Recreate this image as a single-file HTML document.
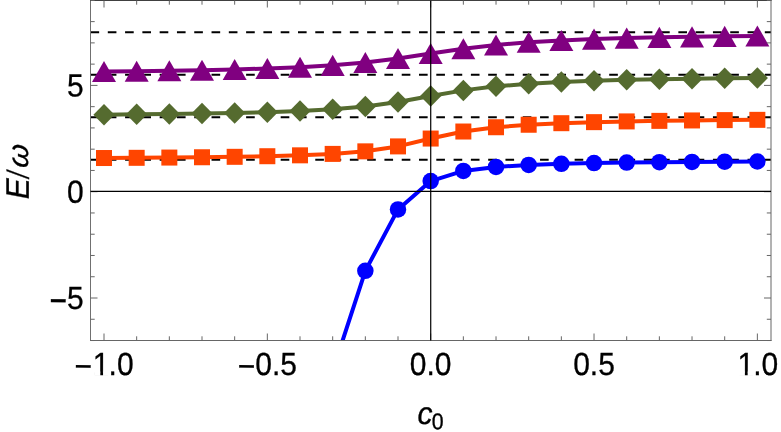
<!DOCTYPE html>
<html><head><meta charset="utf-8"><title>plot</title>
<style>html,body{margin:0;padding:0;background:#fff;}svg{display:block;will-change:transform}text{font-family:"Liberation Sans",sans-serif;fill:#000;stroke:#000;stroke-width:0.3px}</style></head><body>
<svg width="781" height="432" viewBox="0 0 781 432">
<rect width="781" height="432" fill="#fff"/>
<defs><clipPath id="cp"><rect x="90.5" y="0.5" width="680.5" height="340.0"/></clipPath></defs>
<g clip-path="url(#cp)">
<line x1="90.5" x2="771.0" y1="159.81" y2="159.81" stroke="#000" stroke-width="2.1" stroke-dasharray="8.645 8.645"/>
<line x1="90.5" x2="771.0" y1="117.29" y2="117.29" stroke="#000" stroke-width="2.1" stroke-dasharray="8.645 8.645"/>
<line x1="90.5" x2="771.0" y1="74.77" y2="74.77" stroke="#000" stroke-width="2.1" stroke-dasharray="8.645 8.645"/>
<line x1="90.5" x2="771.0" y1="32.25" y2="32.25" stroke="#000" stroke-width="2.1" stroke-dasharray="8.645 8.645"/>
<polyline fill="none" stroke="#0000ff" stroke-width="4" stroke-linejoin="round" points="267.34,690.37 300.01,510.75 332.68,370.95 365.34,270.82 398.01,209.41 430.68,181.07 463.35,170.90 496.02,166.90 528.68,164.94 561.35,163.81 594.02,163.08 626.69,162.57 659.36,162.20 692.02,161.91 724.69,161.69 757.36,161.51"/>
<circle cx="267.34" cy="690.37" r="8.25" fill="#0000ff"/>
<circle cx="300.01" cy="510.75" r="8.25" fill="#0000ff"/>
<circle cx="332.68" cy="370.95" r="8.25" fill="#0000ff"/>
<circle cx="365.34" cy="270.82" r="8.25" fill="#0000ff"/>
<circle cx="398.01" cy="209.41" r="8.25" fill="#0000ff"/>
<circle cx="430.68" cy="181.07" r="8.25" fill="#0000ff"/>
<circle cx="463.35" cy="170.90" r="8.25" fill="#0000ff"/>
<circle cx="496.02" cy="166.90" r="8.25" fill="#0000ff"/>
<circle cx="528.68" cy="164.94" r="8.25" fill="#0000ff"/>
<circle cx="561.35" cy="163.81" r="8.25" fill="#0000ff"/>
<circle cx="594.02" cy="163.08" r="8.25" fill="#0000ff"/>
<circle cx="626.69" cy="162.57" r="8.25" fill="#0000ff"/>
<circle cx="659.36" cy="162.20" r="8.25" fill="#0000ff"/>
<circle cx="692.02" cy="161.91" r="8.25" fill="#0000ff"/>
<circle cx="724.69" cy="161.69" r="8.25" fill="#0000ff"/>
<circle cx="757.36" cy="161.51" r="8.25" fill="#0000ff"/>
<polyline fill="none" stroke="#ff4500" stroke-width="4" stroke-linejoin="round" points="104.00,158.02 136.67,157.82 169.34,157.57 202.00,157.25 234.67,156.82 267.34,156.22 300.01,155.33 332.68,153.90 365.34,151.35 398.01,146.40 430.68,138.55 463.35,131.52 496.02,127.24 528.68,124.75 561.35,123.19 594.02,122.15 626.69,121.41 659.36,120.87 692.02,120.45 724.69,120.11 757.36,119.84"/>
<rect x="96.00" y="150.02" width="16" height="16" fill="#ff4500"/>
<rect x="128.67" y="149.82" width="16" height="16" fill="#ff4500"/>
<rect x="161.34" y="149.57" width="16" height="16" fill="#ff4500"/>
<rect x="194.00" y="149.25" width="16" height="16" fill="#ff4500"/>
<rect x="226.67" y="148.82" width="16" height="16" fill="#ff4500"/>
<rect x="259.34" y="148.22" width="16" height="16" fill="#ff4500"/>
<rect x="292.01" y="147.33" width="16" height="16" fill="#ff4500"/>
<rect x="324.68" y="145.90" width="16" height="16" fill="#ff4500"/>
<rect x="357.34" y="143.35" width="16" height="16" fill="#ff4500"/>
<rect x="390.01" y="138.40" width="16" height="16" fill="#ff4500"/>
<rect x="422.68" y="130.55" width="16" height="16" fill="#ff4500"/>
<rect x="455.35" y="123.52" width="16" height="16" fill="#ff4500"/>
<rect x="488.02" y="119.24" width="16" height="16" fill="#ff4500"/>
<rect x="520.68" y="116.75" width="16" height="16" fill="#ff4500"/>
<rect x="553.35" y="115.19" width="16" height="16" fill="#ff4500"/>
<rect x="586.02" y="114.15" width="16" height="16" fill="#ff4500"/>
<rect x="618.69" y="113.41" width="16" height="16" fill="#ff4500"/>
<rect x="651.36" y="112.87" width="16" height="16" fill="#ff4500"/>
<rect x="684.02" y="112.45" width="16" height="16" fill="#ff4500"/>
<rect x="716.69" y="112.11" width="16" height="16" fill="#ff4500"/>
<rect x="749.36" y="111.84" width="16" height="16" fill="#ff4500"/>
<polyline fill="none" stroke="#556b2f" stroke-width="4" stroke-linejoin="round" points="104.00,114.65 136.67,114.36 169.34,114.00 202.00,113.54 234.67,112.94 267.34,112.13 300.01,110.96 332.68,109.20 365.34,106.41 398.01,101.98 430.68,96.03 463.35,90.39 496.02,86.35 528.68,83.71 561.35,81.96 594.02,80.75 626.69,79.87 659.36,79.21 692.02,78.69 724.69,78.28 757.36,77.95"/>
<path d="M104.00 103.90L114.60 114.65L104.00 125.40L93.40 114.65Z" fill="#556b2f"/>
<path d="M136.67 103.61L147.27 114.36L136.67 125.11L126.07 114.36Z" fill="#556b2f"/>
<path d="M169.34 103.25L179.94 114.00L169.34 124.75L158.74 114.00Z" fill="#556b2f"/>
<path d="M202.00 102.79L212.60 113.54L202.00 124.29L191.40 113.54Z" fill="#556b2f"/>
<path d="M234.67 102.19L245.27 112.94L234.67 123.69L224.07 112.94Z" fill="#556b2f"/>
<path d="M267.34 101.38L277.94 112.13L267.34 122.88L256.74 112.13Z" fill="#556b2f"/>
<path d="M300.01 100.21L310.61 110.96L300.01 121.71L289.41 110.96Z" fill="#556b2f"/>
<path d="M332.68 98.45L343.28 109.20L332.68 119.95L322.08 109.20Z" fill="#556b2f"/>
<path d="M365.34 95.66L375.94 106.41L365.34 117.16L354.74 106.41Z" fill="#556b2f"/>
<path d="M398.01 91.23L408.61 101.98L398.01 112.73L387.41 101.98Z" fill="#556b2f"/>
<path d="M430.68 85.28L441.28 96.03L430.68 106.78L420.08 96.03Z" fill="#556b2f"/>
<path d="M463.35 79.64L473.95 90.39L463.35 101.14L452.75 90.39Z" fill="#556b2f"/>
<path d="M496.02 75.60L506.62 86.35L496.02 97.10L485.42 86.35Z" fill="#556b2f"/>
<path d="M528.68 72.96L539.28 83.71L528.68 94.46L518.08 83.71Z" fill="#556b2f"/>
<path d="M561.35 71.21L571.95 81.96L561.35 92.71L550.75 81.96Z" fill="#556b2f"/>
<path d="M594.02 70.00L604.62 80.75L594.02 91.50L583.42 80.75Z" fill="#556b2f"/>
<path d="M626.69 69.12L637.29 79.87L626.69 90.62L616.09 79.87Z" fill="#556b2f"/>
<path d="M659.36 68.46L669.96 79.21L659.36 89.96L648.76 79.21Z" fill="#556b2f"/>
<path d="M692.02 67.94L702.62 78.69L692.02 89.44L681.42 78.69Z" fill="#556b2f"/>
<path d="M724.69 67.53L735.29 78.28L724.69 89.03L714.09 78.28Z" fill="#556b2f"/>
<path d="M757.36 67.20L767.96 77.95L757.36 88.70L746.76 77.95Z" fill="#556b2f"/>
<polyline fill="none" stroke="#800080" stroke-width="4" stroke-linejoin="round" points="104.00,71.51 136.67,71.15 169.34,70.72 202.00,70.17 234.67,69.47 267.34,68.52 300.01,67.20 332.68,65.31 365.34,62.51 398.01,58.50 430.68,53.51 463.35,48.68 496.02,44.92 528.68,42.27 561.35,40.42 594.02,39.10 626.69,38.12 659.36,37.37 692.02,36.79 724.69,36.32 757.36,35.94"/>
<path d="M104.00 61.01L116.00 82.11L92.00 82.11Z" fill="#800080"/>
<path d="M136.67 60.65L148.67 81.75L124.67 81.75Z" fill="#800080"/>
<path d="M169.34 60.22L181.34 81.32L157.34 81.32Z" fill="#800080"/>
<path d="M202.00 59.67L214.00 80.77L190.00 80.77Z" fill="#800080"/>
<path d="M234.67 58.97L246.67 80.07L222.67 80.07Z" fill="#800080"/>
<path d="M267.34 58.02L279.34 79.12L255.34 79.12Z" fill="#800080"/>
<path d="M300.01 56.70L312.01 77.80L288.01 77.80Z" fill="#800080"/>
<path d="M332.68 54.81L344.68 75.91L320.68 75.91Z" fill="#800080"/>
<path d="M365.34 52.01L377.34 73.11L353.34 73.11Z" fill="#800080"/>
<path d="M398.01 48.00L410.01 69.10L386.01 69.10Z" fill="#800080"/>
<path d="M430.68 43.01L442.68 64.11L418.68 64.11Z" fill="#800080"/>
<path d="M463.35 38.18L475.35 59.28L451.35 59.28Z" fill="#800080"/>
<path d="M496.02 34.42L508.02 55.52L484.02 55.52Z" fill="#800080"/>
<path d="M528.68 31.77L540.68 52.87L516.68 52.87Z" fill="#800080"/>
<path d="M561.35 29.92L573.35 51.02L549.35 51.02Z" fill="#800080"/>
<path d="M594.02 28.60L606.02 49.70L582.02 49.70Z" fill="#800080"/>
<path d="M626.69 27.62L638.69 48.72L614.69 48.72Z" fill="#800080"/>
<path d="M659.36 26.87L671.36 47.97L647.36 47.97Z" fill="#800080"/>
<path d="M692.02 26.29L704.02 47.39L680.02 47.39Z" fill="#800080"/>
<path d="M724.69 25.82L736.69 46.92L712.69 46.92Z" fill="#800080"/>
<path d="M757.36 25.44L769.36 46.54L745.36 46.54Z" fill="#800080"/>
</g>
<g stroke="#666666" stroke-width="1" fill="none">
<line x1="90.5" x2="90.5" y1="0" y2="341.0" stroke="#707070"/>
<line x1="771.0" x2="771.0" y1="0" y2="341.0"/>
<line x1="90.0" x2="771.5" y1="340.5" y2="340.5"/>
<line x1="90.0" x2="771.5" y1="0.5" y2="0.5" stroke="#404040"/>
<line x1="104.00" x2="104.00" y1="340.5" y2="333.5"/>
<line x1="104.00" x2="104.00" y1="0.5" y2="7.5"/>
<line x1="136.67" x2="136.67" y1="340.5" y2="336.3"/>
<line x1="136.67" x2="136.67" y1="0.5" y2="4.7"/>
<line x1="169.34" x2="169.34" y1="340.5" y2="336.3"/>
<line x1="169.34" x2="169.34" y1="0.5" y2="4.7"/>
<line x1="202.00" x2="202.00" y1="340.5" y2="336.3"/>
<line x1="202.00" x2="202.00" y1="0.5" y2="4.7"/>
<line x1="234.67" x2="234.67" y1="340.5" y2="336.3"/>
<line x1="234.67" x2="234.67" y1="0.5" y2="4.7"/>
<line x1="267.34" x2="267.34" y1="340.5" y2="333.5"/>
<line x1="267.34" x2="267.34" y1="0.5" y2="7.5"/>
<line x1="300.01" x2="300.01" y1="340.5" y2="336.3"/>
<line x1="300.01" x2="300.01" y1="0.5" y2="4.7"/>
<line x1="332.68" x2="332.68" y1="340.5" y2="336.3"/>
<line x1="332.68" x2="332.68" y1="0.5" y2="4.7"/>
<line x1="365.34" x2="365.34" y1="340.5" y2="336.3"/>
<line x1="365.34" x2="365.34" y1="0.5" y2="4.7"/>
<line x1="398.01" x2="398.01" y1="340.5" y2="336.3"/>
<line x1="398.01" x2="398.01" y1="0.5" y2="4.7"/>
<line x1="430.68" x2="430.68" y1="340.5" y2="333.5"/>
<line x1="430.68" x2="430.68" y1="0.5" y2="7.5"/>
<line x1="463.35" x2="463.35" y1="340.5" y2="336.3"/>
<line x1="463.35" x2="463.35" y1="0.5" y2="4.7"/>
<line x1="496.02" x2="496.02" y1="340.5" y2="336.3"/>
<line x1="496.02" x2="496.02" y1="0.5" y2="4.7"/>
<line x1="528.68" x2="528.68" y1="340.5" y2="336.3"/>
<line x1="528.68" x2="528.68" y1="0.5" y2="4.7"/>
<line x1="561.35" x2="561.35" y1="340.5" y2="336.3"/>
<line x1="561.35" x2="561.35" y1="0.5" y2="4.7"/>
<line x1="594.02" x2="594.02" y1="340.5" y2="333.5"/>
<line x1="594.02" x2="594.02" y1="0.5" y2="7.5"/>
<line x1="626.69" x2="626.69" y1="340.5" y2="336.3"/>
<line x1="626.69" x2="626.69" y1="0.5" y2="4.7"/>
<line x1="659.36" x2="659.36" y1="340.5" y2="336.3"/>
<line x1="659.36" x2="659.36" y1="0.5" y2="4.7"/>
<line x1="692.02" x2="692.02" y1="340.5" y2="336.3"/>
<line x1="692.02" x2="692.02" y1="0.5" y2="4.7"/>
<line x1="724.69" x2="724.69" y1="340.5" y2="336.3"/>
<line x1="724.69" x2="724.69" y1="0.5" y2="4.7"/>
<line x1="757.36" x2="757.36" y1="340.5" y2="333.5"/>
<line x1="757.36" x2="757.36" y1="0.5" y2="7.5"/>
<line x1="90.5" x2="94.7" y1="340.52" y2="340.52"/>
<line x1="771.0" x2="766.8" y1="340.52" y2="340.52"/>
<line x1="90.5" x2="94.7" y1="319.26" y2="319.26"/>
<line x1="771.0" x2="766.8" y1="319.26" y2="319.26"/>
<line x1="90.5" x2="97.5" y1="298.00" y2="298.00"/>
<line x1="771.0" x2="764.0" y1="298.00" y2="298.00"/>
<line x1="90.5" x2="94.7" y1="276.74" y2="276.74"/>
<line x1="771.0" x2="766.8" y1="276.74" y2="276.74"/>
<line x1="90.5" x2="94.7" y1="255.48" y2="255.48"/>
<line x1="771.0" x2="766.8" y1="255.48" y2="255.48"/>
<line x1="90.5" x2="94.7" y1="234.22" y2="234.22"/>
<line x1="771.0" x2="766.8" y1="234.22" y2="234.22"/>
<line x1="90.5" x2="94.7" y1="212.96" y2="212.96"/>
<line x1="771.0" x2="766.8" y1="212.96" y2="212.96"/>
<line x1="90.5" x2="97.5" y1="191.70" y2="191.70"/>
<line x1="771.0" x2="764.0" y1="191.70" y2="191.70"/>
<line x1="90.5" x2="94.7" y1="170.44" y2="170.44"/>
<line x1="771.0" x2="766.8" y1="170.44" y2="170.44"/>
<line x1="90.5" x2="94.7" y1="149.18" y2="149.18"/>
<line x1="771.0" x2="766.8" y1="149.18" y2="149.18"/>
<line x1="90.5" x2="94.7" y1="127.92" y2="127.92"/>
<line x1="771.0" x2="766.8" y1="127.92" y2="127.92"/>
<line x1="90.5" x2="94.7" y1="106.66" y2="106.66"/>
<line x1="771.0" x2="766.8" y1="106.66" y2="106.66"/>
<line x1="90.5" x2="97.5" y1="85.40" y2="85.40"/>
<line x1="771.0" x2="764.0" y1="85.40" y2="85.40"/>
<line x1="90.5" x2="94.7" y1="64.14" y2="64.14"/>
<line x1="771.0" x2="766.8" y1="64.14" y2="64.14"/>
<line x1="90.5" x2="94.7" y1="42.88" y2="42.88"/>
<line x1="771.0" x2="766.8" y1="42.88" y2="42.88"/>
<line x1="90.5" x2="94.7" y1="21.62" y2="21.62"/>
<line x1="771.0" x2="766.8" y1="21.62" y2="21.62"/>
<line x1="90.5" x2="94.7" y1="0.36" y2="0.36"/>
<line x1="771.0" x2="766.8" y1="0.36" y2="0.36"/>
</g>
<line x1="90.5" x2="771.0" y1="191.45" y2="191.45" stroke="#000" stroke-width="1.25"/>
<line x1="430.72" x2="430.72" y1="0.5" y2="340.5" stroke="#000" stroke-width="1.2"/>
<text transform="translate(74.39,377.96) rotate(0.05) scale(1,1.168)" font-size="30">−</text><text transform="translate(91.91,375.10) rotate(0.05) scale(1,1.065)" font-size="30"><tspan dx="0.9">1</tspan><tspan dx="-0.9">.</tspan>0</text><rect x="94.27" y="371.61" width="6.03" height="4.29" fill="#fff"/><rect x="103.05" y="371.61" width="5.92" height="4.29" fill="#fff"/>
<text transform="translate(237.73,377.96) rotate(0.05) scale(1,1.168)" font-size="30">−</text><text transform="translate(255.25,375.10) rotate(0.05) scale(1,1.065)" font-size="30">0.5</text>
<text transform="translate(409.83,375.10) rotate(0.05) scale(1,1.065)" font-size="30">0.0</text>
<text transform="translate(573.17,375.10) rotate(0.05) scale(1,1.065)" font-size="30">0.5</text>
<text transform="translate(736.51,375.10) rotate(0.05) scale(1,1.065)" font-size="30"><tspan dx="0.9">1</tspan><tspan dx="-0.9">.</tspan>0</text><rect x="738.87" y="371.61" width="6.03" height="4.29" fill="#fff"/><rect x="747.65" y="371.61" width="5.92" height="4.29" fill="#fff"/>
<text transform="translate(67.12,96.50) rotate(0.05) scale(1,1.065)" font-size="30">5</text>
<text transform="translate(67.12,202.80) rotate(0.05) scale(1,1.065)" font-size="30">0</text>
<text transform="translate(49.60,313.63) rotate(0.05) scale(1,1.308)" font-size="30">−</text><text transform="translate(67.12,309.10) rotate(0.05) scale(1,1.065)" font-size="30">5</text>
<text transform="translate(417.60,423.90) rotate(0.05) scale(1,1.04)" font-size="30" font-style="italic">c</text>
<text transform="translate(431.80,429.25) rotate(0.05) scale(1,1.07)" font-size="21.3">0</text>
<text transform="translate(28.8,199.2) rotate(-89.95) skewX(0) scale(1.05,1.085)" font-size="30" font-style="italic" text-anchor="start">E</text>
<text transform="translate(28.8,178.0) rotate(-89.95) skewX(0) scale(0.8,1.02)" font-size="30" font-style="italic" text-anchor="start">/</text>
<text transform="translate(28.1,168.6) rotate(-89.95) skewX(-7) scale(1.0,0.97)" font-size="30" font-style="italic" text-anchor="start">ω</text>
</svg></body></html>
